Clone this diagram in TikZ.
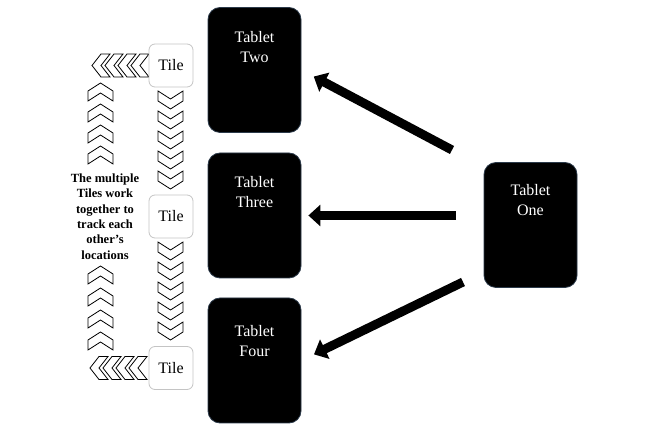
\documentclass[tikz,border=0pt]{standalone}
\usepackage{fontspec}
\setmainfont{Liberation Serif}
\usetikzlibrary{arrows.meta}
\definecolor{Edge}{HTML}{2B3A4A}
\definecolor{TileLine}{HTML}{C4C4C4}

\begin{document}
\begin{tikzpicture}[x=1pt,y=1pt,
  tablet/.style={rounded corners=12pt,draw=Edge,line width=.8pt,fill=black,
   minimum width=93pt,minimum height=125pt,inner sep=0pt},
  tabtxt/.style={anchor=north,yshift=-24pt,align=center,text=white,inner sep=0pt,
   font=\fontsize{16}{20}\selectfont},
  tilebox/.style={rounded corners=6pt,draw=TileLine,line width=.8pt,fill=white,
   minimum width=44pt,minimum height=43pt,font=\fontsize{16}{19}\selectfont},
  note/.style={align=center,inner sep=0pt,font=\bfseries\fontsize{12.5}{15.3}\selectfont},
  chev/.style={draw=black,fill=white,line width=.8pt},
  bigarrow/.style={line width=9pt,-{Triangle[length=12pt,width=21pt]}}]
  \useasboundingbox (0,0) rectangle (651,431);
  % tablets
  \node[tablet,label={[tabtxt]north:Tablet\\Two}] (two) at (254.5,361) {};
  \node[tablet,label={[tabtxt]north:Tablet\\Three}] (three) at (254.5,215.5) {};
  \node[tablet,label={[tabtxt,yshift=-4pt]north:Tablet\\Four}] (four) at (254.5,70.5) {};
  \node[tablet,label={[tabtxt,yshift=2pt]north:Tablet\\One}] (one) at (530.5,206) {};
  % arrows out of tablet one
  \coordinate (fromtwo) at (452,281);
  \coordinate (fromthree) at (456,215.5);
  \coordinate (fromfour) at (463,149);
  \draw[bigarrow,shorten >=14pt] (fromtwo) -- (two.east);
  \draw[bigarrow,shorten >=7pt] (fromthree) -- (three.east);
  \draw[bigarrow,shorten >=14pt] (fromfour) -- (four.east);
  % chevrons
  \foreach \t in {340,320,300,280,260,189,169,149,129,109}
    \draw[chev] (158,\t) -- (170.5,\t-8) -- (183,\t) -- (183,\t-10) -- (170.5,\t-18) -- (158,\t-10) -- cycle;
  \foreach \t in {348,327,306,285,165,143,121,99}
    \draw[chev] (100.5,\t) -- (113,\t-8) -- (113,\t-18) -- (100.5,\t-10) -- (88,\t-18) -- (88,\t-8) -- cycle;
  \foreach \x/\c in {92/365.5,105/365.5,118/365.5,131/365.5,90/63,103/63,116/63,129/63}
    \draw[chev] (\x,\c) -- (\x+9,\c+11.5) -- (\x+18,\c+11.5) -- (\x+9,\c) -- (\x+18,\c-11.5) -- (\x+9,\c-11.5) -- cycle;
  % tiles
  \node[tilebox] (tileA) at (171,365.5) {Tile};
  \node[tilebox] (tileB) at (171,214.5) {Tile};
  \node[tilebox] (tileC) at (171,63) {Tile};
  \node[note] (note) at (105,214.5) {The multiple\\Tiles work\\together to\\track each\\other’s\\locations};
\end{tikzpicture}
\end{document}
